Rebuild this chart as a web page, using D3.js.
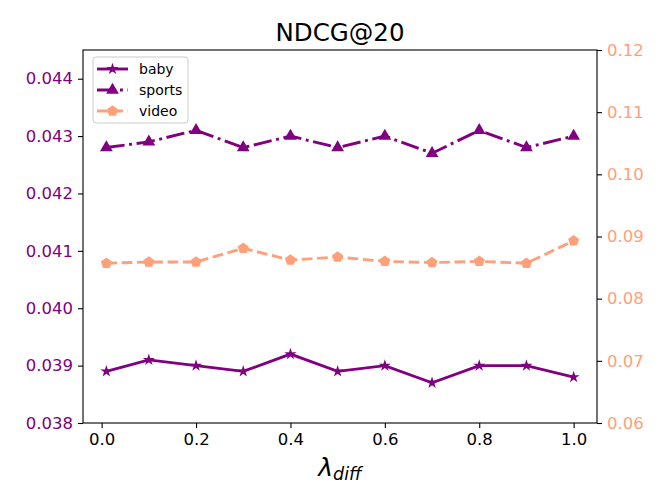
<!DOCTYPE html>
<html>
<head>
<meta charset="utf-8">
<script src="https://cdn.jsdelivr.net/npm/d3@7"></script>
<style>
  body { margin: 0; background: #fff; }
  text { font-family: "DejaVu Sans", sans-serif; }
</style>
</head>
<body>
<div id="js-svg-container"></div>
<script>
// values
let lambdas = [0.01, 0.1, 0.2, 0.3, 0.4, 0.5, 0.6, 0.7, 0.8, 0.9, 1.0];
let baby = [0.0389, 0.0391, 0.0390, 0.0389, 0.0392, 0.0389, 0.0390, 0.0387, 0.0390, 0.0390, 0.0388];
let sports = [0.0428, 0.0429, 0.0431, 0.0428, 0.0430, 0.0428, 0.0430, 0.0427, 0.0431, 0.0428, 0.0430];
let video = [0.0857, 0.0859, 0.0859, 0.0881, 0.0862, 0.0867, 0.0860, 0.0858, 0.0860, 0.0857, 0.0893];
let xTicks = [0.0, 0.2, 0.4, 0.6, 0.8, 1.0];
let leftTicks = [0.038, 0.039, 0.040, 0.041, 0.042, 0.043, 0.044];
let rightTicks = [0.06, 0.07, 0.08, 0.09, 0.10, 0.11, 0.12];

let width = 664, height = 498;
let margin = { top: 50, bottom: 75, left: 83, right: 67 };

let purple = '#800080';
let salmon = '#FFA07A';

let svg = d3.select('#js-svg-container')
    .append('svg')
    .attr('width', width)
    .attr('height', height);

let x = d3.scaleLinear()
    .domain([0.01 - 0.0495, 1.0 + 0.0495])
    .range([margin.left, width - margin.right]);

let yLeft = d3.scaleLinear()
    .domain([0.038, 0.0445])
    .range([height - margin.bottom, margin.top]);

let yRight = d3.scaleLinear()
    .domain([0.06, 0.12])
    .range([height - margin.bottom, margin.top]);

// pentagon marker like matplotlib 'p'
let symbolPentagon = {
    draw: function(ctx, size) {
        let r = Math.sqrt(size / 2.378);
        for (let i = 0; i < 5; i++) {
            let a = -Math.PI / 2 + i * 2 * Math.PI / 5;
            if (i === 0) ctx.moveTo(r * Math.cos(a), r * Math.sin(a));
            else ctx.lineTo(r * Math.cos(a), r * Math.sin(a));
        }
        ctx.closePath();
    }
};

let series = [
    { name: 'baby', values: baby, y: yLeft, color: purple, dash: null, symbol: d3.symbolStar, size: 45 },
    { name: 'sports', values: sports, y: yLeft, color: purple, dash: '18.4,4.6,2.9,4.6', symbol: d3.symbolTriangle, size: 70 },
    { name: 'video', values: video, y: yRight, color: salmon, dash: '10.7,4.6', symbol: symbolPentagon, size: 80 }
];

series.forEach(s => {
    let line = d3.line()
        .x((d, i) => x(lambdas[i]))
        .y(d => s.y(d));

    svg.append('path')
        .datum(s.values)
        .attr('d', line)
        .attr('fill', 'none')
        .attr('stroke', s.color)
        .attr('stroke-width', 2.9)
        .attr('stroke-dasharray', s.dash);

    svg.selectAll(null)
        .data(s.values)
        .enter()
        .append('path')
        .attr('d', d3.symbol().type(s.symbol).size(s.size))
        .attr('transform', (d, i) => 'translate(' + x(lambdas[i]) + ',' + s.y(d) + ')')
        .attr('fill', s.color);
});

// axes
let axisX = svg.append('g')
    .attr('transform', 'translate(0,' + (height - margin.bottom) + ')')
    .call(d3.axisBottom(x).tickValues(xTicks).tickFormat(d3.format('.1f')).tickSizeOuter(0).tickSize(5).tickPadding(5));

let axisL = svg.append('g')
    .attr('transform', 'translate(' + margin.left + ',0)')
    .call(d3.axisLeft(yLeft).tickValues(leftTicks).tickFormat(d3.format('.3f')).tickSizeOuter(0).tickSize(5).tickPadding(5));

let axisR = svg.append('g')
    .attr('transform', 'translate(' + (width - margin.right) + ',0)')
    .call(d3.axisRight(yRight).tickValues(rightTicks).tickFormat(d3.format('.2f')).tickSizeOuter(0).tickSize(5).tickPadding(5));

[axisX, axisL, axisR].forEach(a => {
    a.select('.domain').remove();
    a.selectAll('line').attr('stroke', '#000').attr('stroke-width', 1.1);
    a.selectAll('text').style('font-family', '"DejaVu Sans", sans-serif').attr('font-size', 16.5);
});
axisX.selectAll('text').attr('fill', '#000');
axisL.selectAll('text').attr('fill', purple);
axisR.selectAll('text').attr('fill', salmon);

// frame
svg.append('rect')
    .attr('x', margin.left)
    .attr('y', margin.top)
    .attr('width', width - margin.left - margin.right)
    .attr('height', height - margin.top - margin.bottom)
    .attr('fill', 'none')
    .attr('stroke', '#000')
    .attr('stroke-width', 1.1);

// title
svg.append('text')
    .attr('x', (margin.left + width - margin.right) / 2)
    .attr('y', 41)
    .attr('text-anchor', 'middle')
    .attr('font-size', 24.5)
    .text('NDCG@20');

// x label
let xl = svg.append('text')
    .attr('x', (margin.left + width - margin.right) / 2)
    .attr('y', 476)
    .attr('text-anchor', 'middle')
    .attr('font-size', 25);
xl.append('tspan').attr('font-style', 'italic').text('λ');
xl.append('tspan').attr('font-style', 'italic').attr('font-size', 17.5).attr('dy', 4).text('diff');

// legend
let lg = svg.append('g').attr('transform', 'translate(93,57)');
lg.append('rect')
    .attr('width', 95)
    .attr('height', 66)
    .attr('rx', 3)
    .attr('fill', '#fff')
    .attr('fill-opacity', 0.8)
    .attr('stroke', '#ccc')
    .attr('stroke-width', 1);

series.forEach((s, i) => {
    let cy = 12 + i * 21;
    lg.append('line')
        .attr('x1', 4).attr('x2', 35)
        .attr('y1', cy).attr('y2', cy)
        .attr('stroke', s.color)
        .attr('stroke-width', 2.9)
        .attr('stroke-dasharray', s.dash);
    lg.append('path')
        .attr('d', d3.symbol().type(s.symbol).size(s.size))
        .attr('transform', 'translate(19.5,' + cy + ')')
        .attr('fill', s.color);
    lg.append('text')
        .attr('x', 46)
        .attr('y', cy + 5)
        .attr('font-size', 14)
        .text(s.name);
});
</script>
</body>
</html>
